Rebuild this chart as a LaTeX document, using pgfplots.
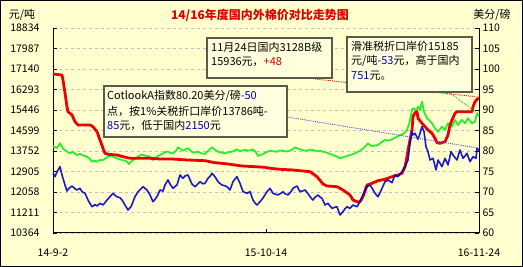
\documentclass[border=0pt]{standalone}
\usepackage{pgfplots}
\pgfplotsset{compat=1.18}
\usepackage{fontspec}
\setmainfont{Noto Sans CJK SC}
\definecolor{bg}{RGB}{255,255,208}
\definecolor{boxbg}{RGB}{255,255,222}
\definecolor{boxline}{RGB}{90,90,70}
\definecolor{cred}{RGB}{238,0,0}
\definecolor{cgreen}{RGB}{40,240,40}
\definecolor{cblue}{RGB}{0,0,200}
\definecolor{tblue}{RGB}{0,0,170}
\definecolor{tred}{RGB}{210,0,0}
\definecolor{titlered}{RGB}{220,0,0}

\pgfplotstableread{
x y
0 16933
9 16892
10 16685
12 16148
14 15570
15 15376
19 15239
22 14963
25 14826
30 14826
37 14826
40 14756
44 14549
47 14207
50 13864
52 13657
55 13616
64 13587
70 13517
77 13450
97 13450
107 13421
119 13421
135 13380
152 13351
162 13269
175 13215
189 13132
202 13103
212 13078
217 13037
227 12996
240 12967
257 12897
264 12690
270 12389
274 12306
284 12277
290 12141
297 11934
300 11727
304 11657
307 11657
310 11864
314 12347
319 12417
325 12525
332 12583
339 12690
345 12760
349 12831
352 13103
354 13517
355 13793
357 14207
359 14620
360 15169
362 15334
364 15376
365 15103
369 14896
372 14756
375 14620
379 14483
382 14277
384 14095
387 14070
392 14136
395 14413
397 14826
399 15033
402 15310
404 15376
412 15376
419 15376
420 15582
422 15789
424 15888
426 15936
}\redtab

\pgfplotstableread{
x y
0 13959
2 13900
4 13876
7 14070
10 13864
12 13780
14 13723
17 13657
20 13723
22 13640
24 13587
27 13630
29 13587
34 13517
37 13420
39 13310
42 13350
44 13310
47 13380
50 13380
53 13460
55 13517
59 13545
62 13480
64 13450
69 13380
72 13350
74 13310
76 13215
78 13300
80 13380
83 13440
85 13517
88 13600
90 13587
94 13540
97 13517
100 13380
102 13460
104 13517
107 13587
110 13650
112 13711
115 13723
118 13660
120 13657
123 13760
125 13905
128 13820
130 13765
133 13830
135 13864
138 13750
140 13682
143 13700
145 13723
148 13660
152 13628
155 13760
159 13905
162 13800
165 13723
168 13690
172 13657
175 13700
179 13723
182 13780
184 13822
187 13740
189 13765
192 13800
195 13765
198 13790
200 13822
203 13700
205 13545
208 13600
210 13628
214 13711
217 13765
220 13740
224 13723
227 13770
230 13765
233 13730
237 13765
240 13830
242 13905
245 13850
247 13822
250 13780
254 13765
257 13810
260 13793
264 13740
267 13765
270 13720
274 13682
277 13630
280 13587
284 13520
287 13450
290 13490
292 13517
295 13560
297 13587
300 13620
302 13657
305 13720
307 13765
310 13850
312 13930
315 14070
317 14000
319 13959
322 13980
325 14000
328 14100
332 14207
335 14180
339 14235
342 14300
345 14372
348 14420
350 14455
352 14520
354 14620
356 14850
357 15033
359 15446
360 15516
362 15470
364 15446
365 15582
367 15446
369 15789
371 15376
374 15103
377 14990
379 14896
382 14690
385 14549
387 14650
389 14756
392 14620
395 14896
397 14820
399 14756
402 15033
405 14826
407 14950
409 15033
412 14896
415 15103
417 15000
419 14896
422 14963
424 15310
426 15185
}\greentab

\pgfplotstableread{
x y
0 74.56
2 73.73
4 74.95
7 76.17
9 74.15
12 71.71
14 70.24
16 70.90
19 71.46
22 70.80
24 70.49
27 70.90
29 70.07
32 69.68
35 68.05
37 67.20
39 66.41
42 66.90
44 66.59
47 67.24
50 66.83
52 67.40
54 68.05
57 68.85
60 69.68
62 69.20
64 68.85
67 68.60
69 68.05
72 66.83
75 65.61
78 66.41
80 67.60
82 68.85
85 70.07
88 70.80
90 71.29
94 70.49
97 69.27
100 67.63
102 68.20
104 68.85
107 70.49
110 70.24
112 71.71
115 72.93
117 71.95
120 70.90
124 71.71
127 74.15
130 73.34
132 73.90
135 74.15
137 73.00
139 71.95
142 71.29
145 72.00
147 72.51
150 72.00
152 72.12
155 73.34
157 73.80
159 74.56
162 73.73
165 72.51
167 72.10
169 71.71
172 71.50
174 71.29
177 70.49
180 72.51
182 73.20
184 73.73
187 72.12
190 70.07
192 69.90
194 69.68
197 70.07
200 68.05
202 67.30
204 66.83
207 67.63
210 68.54
212 69.30
214 70.07
217 70.90
220 69.68
222 69.50
225 69.27
228 69.70
230 70.07
232 69.60
235 69.27
238 70.10
240 70.90
242 71.20
244 71.46
247 70.07
250 70.30
252 70.49
255 69.60
257 68.85
260 68.05
262 68.70
265 69.27
267 68.80
269 68.46
272 66.83
275 67.24
277 66.60
279 66.02
282 66.30
284 66.41
287 64.39
290 65.20
292 65.90
294 66.41
297 66.02
300 66.83
302 66.60
304 66.41
307 67.63
310 69.27
312 70.30
314 71.29
317 71.71
319 70.98
321 70.07
323 69.40
325 68.85
327 69.80
329 70.90
332 72.51
335 72.93
337 72.60
339 72.27
342 74.15
345 73.73
347 74.40
349 74.95
352 76.17
355 77.80
357 81.88
359 84.71
360 83.90
362 84.32
365 82.85
367 84.32
369 85.93
371 84.71
373 81.05
375 79.83
377 77.80
380 78.22
383 75.37
385 77.80
387 77.00
389 76.17
392 78.22
395 76.59
398 79.83
400 79.02
402 78.40
404 77.80
407 80.24
410 78.22
412 78.80
414 79.44
417 77.39
420 78.61
423 78.22
424 80.66
426 80.20
}\bluetab

\begin{document}
\begin{tikzpicture}[x=1pt,y=1pt]
\fill[bg] (0,0) rectangle (523,267);
\draw[black,line width=1pt] (0.5,0.5) rectangle (522.5,266.5);

\begin{axis}[
  at={(53pt,34pt)}, anchor=south west,
  width=426pt, height=205pt, scale only axis,
  xmin=0, xmax=426, ymin=10364, ymax=18834,
  axis x line*=bottom, axis y line*=left,
  axis line style={-, black, line width=1pt},
  xtick={0,213,426}, xticklabels={14-9-2,15-10-14,16-11-24},
  ytick={10364,11211,12058,12905,13752,14599,15446,16293,17140,17987,18834},
  yticklabels={10364,11211,12058,12905,13752,14599,15446,16293,17140,17987,18834},
  scaled y ticks=false, scaled x ticks=false,
  tick align=inside, major tick length=4pt,
  tick style={black, line width=0.8pt},
  ymajorgrids, grid style={dashed, black!25, line width=0.6pt},
  ticklabel style={font=\fontsize{10.5}{12}\selectfont},
  yticklabel shift=10pt,
  xticklabel shift=12pt,
  /pgf/number format/assume math mode=true,
  clip=false,
]
\addplot[cgreen, line width=1.8pt, line join=round] table[x=x,y=y] {\greentab};
\addplot[cred, line width=2.8pt, line join=round] table[x=x,y=y] {\redtab};
\end{axis}

\begin{axis}[
  at={(53pt,34pt)}, anchor=south west,
  width=426pt, height=205pt, scale only axis,
  xmin=0, xmax=426, ymin=60, ymax=110,
  axis y line*=right, axis x line=none,
  axis line style={-, black, line width=1pt},
  ytick={60,65,70,75,80,85,90,95,100,105,110},
  scaled y ticks=false,
  tick align=inside, major tick length=4pt,
  tick style={black, line width=0.8pt},
  ticklabel style={font=\fontsize{10.5}{12}\selectfont},
  /pgf/number format/assume math mode=true,
  clip=false,
]
\addplot[cblue, line width=1.6pt, line join=round, opacity=0.9] table[x=x,y=y] {\bluetab};
\end{axis}

% leader lines
\draw[cred, densely dotted, line width=0.9pt] (315,188) -- (478,170);
\draw[cgreen!80!black, densely dotted, line width=0.9pt] (447,176) -- (476,155);
\draw[cblue!70!white, densely dotted, line width=0.9pt] (287,150) -- (478,119);

% boxes
\draw[boxline, line width=1.4pt, fill=boxbg] (207,189) rectangle (332,229);
\draw[boxline, line width=1.4pt, fill=boxbg] (347,175) rectangle (472,230);
\draw[boxline, line width=1.4pt, fill=boxbg] (104,130) rectangle (287,181);

\begin{scope}[every node/.style={anchor=west, inner sep=0pt, font=\fontsize{11}{13}\selectfont}]
\node at (211,220) {11月24日国内3128B级};
\node at (211,205) {15936元，\textcolor{tred}{+48}};
\node at (351,221) {滑准税折口岸价15185};
\node at (351,206) {元/吨\textcolor{tblue}{-53}元，高于国内};
\node at (351,191) {\textcolor{tblue}{751}元。};
\node at (107,171) {CotlookA指数80.20美分/磅\textcolor{tblue}{-50}};
\node at (107,156) {点，按1\%关税折口岸价13786吨-};
\node at (107,142) {\textcolor{tblue}{85}元，低于国内\textcolor{tblue}{2150}元};
\end{scope}

% titles
\node[font=\fontsize{12}{14}\selectfont\bfseries, text=titlered] at (260,252) {14/16年度国内外棉价对比走势图};
\node[font=\fontsize{11}{13}\selectfont] at (22,252) {元/吨};
\node[font=\fontsize{11}{13}\selectfont] at (492,252) {美分/磅};
\end{tikzpicture}
\end{document}
